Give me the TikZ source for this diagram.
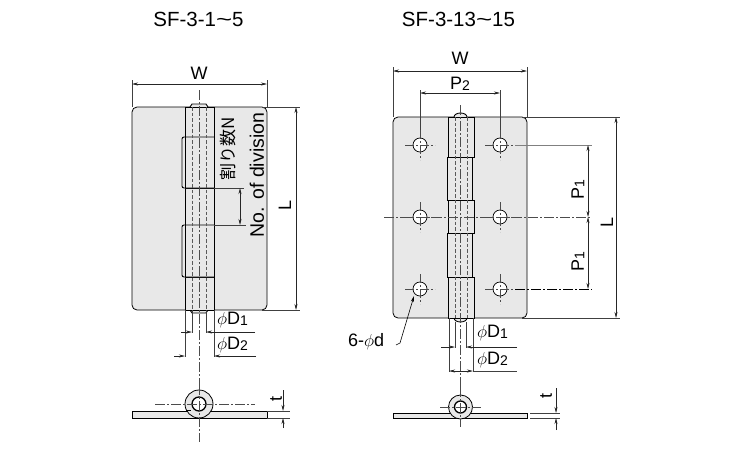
\documentclass[tikz,border=0pt]{standalone}
\usepackage{fontspec}
\setmainfont{Liberation Sans}
\newfontfamily\cjk{Noto Sans CJK JP}
\usetikzlibrary{arrows.meta}
\tikzset{
  x=1pt, y=-1pt,
  plate/.style={draw=black, line width=0.8pt, fill=black!9},
  knuckle/.style={draw=black, line width=0.9pt, fill=black!9},
  hidden/.style={black!65, line width=0.6pt, dash pattern=on 3.5pt off 2pt},
  centerline/.style={black!70, line width=0.5pt, dash pattern=on 10pt off 2pt on 2pt off 2pt},
  witness/.style={black!75, line width=0.4pt},
  dim/.style={black!85, line width=0.5pt, {Stealth[length=6pt,width=3pt]}-{Stealth[length=6pt,width=3pt]}},
  tip/.style={black!85, line width=0.5pt, -{Stealth[length=6pt,width=3pt]}},
  label/.style={inner sep=0pt, font=\fontsize{18}{18}\selectfont},
  title/.style={inner sep=0pt, font=\fontsize{20.5}{20.5}\selectfont}
}
\newcommand{\low}[1]{\raisebox{-0.6pt}{\fontsize{14}{14}\selectfont #1}}
\newcommand{\wave}{\scalebox{1.35}[1]{\textasciitilde}}
\begin{document}
\begin{tikzpicture}
\useasboundingbox (0,0) rectangle (750,450);

% Titel
\node[title] (titleA) at (198.5,19) {SF-3-1\wave 5};
\node[title] (titleB) at (458.5,19) {SF-3-13\wave 15};

% Linkes Scharnier
\draw[plate, rounded corners=5pt] (132,107) rectangle (267,310);
\draw[knuckle] (190,107) -- (192,104) -- (206,104) -- (208,107);
\draw[knuckle] (190,310) -- (192,313) -- (206,313) -- (208,310);
\draw[knuckle] (185,107) rectangle (214,137);
\draw[knuckle] (185,188) rectangle (214,225);
\draw[knuckle] (185,277) rectangle (214,310);
\draw[knuckle, rounded corners=2pt] (214,137) -- (182,137) -- (182,188) -- (214,188);
\draw[knuckle, rounded corners=2pt] (214,225) -- (182,225) -- (182,277) -- (214,277);
\draw[knuckle] (214,137) -- (214,188) (214,225) -- (214,277);
\draw[line width=0.7pt] (185,137) -- (185,188) (185,225) -- (185,277);
\draw[hidden] (192,107) -- (192,310);
\draw[hidden] (206,107) -- (206,310);
\draw[centerline] (199,90) -- (199,385);

% Seitenansicht links
\draw[plate] (132,411) rectangle (267,418);
\draw[plate] (199,404) circle (14);
\draw[draw=black, line width=1.3pt, fill=white] (199,404) circle (7);
\draw[line width=0.9pt] (186,410) -- (191,410);
\draw[centerline] (155,404) -- (255,404);
\draw[centerline] (199,385) -- (199,442);

% Masse links
\coordinate (wA) at (132,84);
\coordinate (wB) at (267,84);
\draw[witness] (132,80) -- (132,107) (267,80) -- (267,107);
\draw[dim] (wA) -- (wB);
\node[label] (widthA) at (199,73) {W};
\coordinate (lA) at (296,107);
\coordinate (lB) at (296,310);
\draw[witness] (262,107) -- (300,107) (262,310) -- (300,310);
\draw[dim] (lA) -- (lB);
\node[label, rotate=90] (lengthA) at (285,205) {L};
\draw[witness] (214,188) -- (244,188) (214,225) -- (246,225);
\coordinate (nA) at (240,188);
\coordinate (nB) at (240,225);
\draw[dim] (nA) -- (nB);
\node[inner sep=0pt, rotate=90, font=\cjk\fontsize{17}{17}\selectfont] (divJ) at (228,148.5) {割り数N};
\node[label, rotate=90, font=\fontsize{19.5}{19.5}\selectfont] (divE) at (257,175) {No. of division};
\draw[witness] (192,310) -- (192,333) (206,310) -- (206,333);
\draw[witness] (185,310) -- (185,357) (214,310) -- (214,357);
\coordinate (dA) at (192,332);
\coordinate (dB) at (206,332);
\draw[tip] (181,332) -- (dA);
\draw[tip] (255,332) -- (dB);
\node[label, anchor=west] (dOneA) at (217,320) {$\phi$D\low{1}};
\coordinate (eA) at (185,356);
\coordinate (eB) at (214,356);
\draw[tip] (174,356) -- (eA);
\draw[tip] (256,356) -- (eB);
\node[label, anchor=west] (dTwoA) at (217,345) {$\phi$D\low{2}};
\draw[witness] (267,411) -- (290,411) (267,418) -- (290,418);
\coordinate (tA) at (283,411);
\coordinate (tB) at (283,418);
\draw[tip] (283,390) -- (tA);
\draw[tip] (283,428) -- (tB);
\node[label, rotate=90] (thickA) at (276,399) {t};

% Rechtes Scharnier
\draw[plate, rounded corners=5pt] (393,117) rectangle (527,318);
\draw[knuckle] (454,117) arc (180:360:6.5 and 4);
\draw[knuckle] (454,318) arc (180:0:6.5 and 4);
\draw[knuckle] (448,117) rectangle (474,157);
\draw[knuckle] (447,157) rectangle (472,200);
\draw[knuckle] (448,200) rectangle (474,233);
\draw[knuckle] (447,233) rectangle (472,277);
\draw[knuckle] (448,277) rectangle (474,318);
\draw[hidden] (455,117) -- (455,318);
\draw[hidden] (467,117) -- (467,318);
\draw[centerline] (460.5,105) -- (460.5,387);

% Bohrungen
\foreach \px/\name in {420/l, 500/r}
  \foreach \py/\row in {145/a, 217/b, 289/c} {
    \draw[black, line width=0.7pt, fill=white] (\px,\py) circle (7) coordinate (h\name\row);
    \draw[black!70, line width=0.5pt, dash pattern=on 9pt off 2pt on 2pt off 2pt] (\px-15,\py) -- (\px+15,\py);
    \draw[black!70, line width=0.5pt, dash pattern=on 9pt off 2pt on 2pt off 2pt] (\px,\py-15) -- (\px,\py+15);
  }
\draw[centerline] (384,217) -- (590,217);
\draw[black!50, line width=0.6pt] (hra) ++(15,0) -- (592,145);
\draw[centerline, black] (hrc) ++(15,0) -- (592,289);

% Seitenansicht rechts
\draw[plate] (393,413) rectangle (527,418);
\draw[plate] (460.5,407) circle (12);
\draw[draw=black, line width=1.3pt, fill=white] (460.5,407) circle (6);
\draw[centerline] (440,407) -- (481,407);
\draw[centerline] (460.5,387) -- (460.5,427);

% Masse rechts
\coordinate (wC) at (393,71);
\coordinate (wD) at (527,71);
\draw[witness] (393,67) -- (393,117) (527,67) -- (527,117);
\draw[dim] (wC) -- (wD);
\node[label] (widthB) at (460,58) {W};
\coordinate (pA) at (420,93);
\coordinate (pB) at (500,93);
\draw[witness] (420,90) -- (420,130) (500,90) -- (500,130);
\draw[dim] (pA) -- (pB);
\node[label] (pitchB) at (460,84) {P\low{2}};
\coordinate (lC) at (616,117);
\coordinate (lD) at (616,318);
\draw[witness] (522,117) -- (620,117) (522,318) -- (620,318);
\draw[dim] (lC) -- (lD);
\node[label, rotate=90] (lengthB) at (607,222) {L};
\coordinate (qA) at (588,145);
\coordinate (qB) at (588,217);
\coordinate (qC) at (588,289);
\draw[dim] (qA) -- (qB);
\draw[dim] (qB) -- (qC);
\node[label, rotate=90] (pitchA) at (578,190) {P\low{1}};
\node[label, rotate=90] (pitchC) at (578,262) {P\low{1}};
\node[label, anchor=west] (holes) at (348,342) {6-$\phi$d};
\coordinate (hook) at (400,343);
\draw[tip, black, line width=0.6pt] (396,345) -- (hook) -- (414,296);
\draw[witness] (449,318) -- (449,372) (473,318) -- (473,372);
\draw[witness] (455,322) -- (455,348) (466,322) -- (466,348);
\coordinate (dC) at (455,347);
\coordinate (dD) at (466,347);
\draw[tip] (441,347) -- (dC);
\draw[tip] (517,347) -- (dD);
\node[label, anchor=west] (dOneB) at (477,333) {$\phi$D\low{1}};
\coordinate (eC) at (449,371);
\coordinate (eD) at (473,371);
\draw[dim] (eC) -- (eD);
\draw[witness] (473,371) -- (517,371);
\node[label, anchor=west] (dTwoB) at (477,360) {$\phi$D\low{2}};
\draw[witness] (530,413) -- (560,413) (530,418) -- (560,418);
\coordinate (tC) at (556,413);
\coordinate (tD) at (556,418);
\draw[tip] (556,388) -- (tC);
\draw[tip] (556,430) -- (tD);
\node[label, rotate=90] (thickB) at (546,396) {t};

\end{tikzpicture}
\end{document}
